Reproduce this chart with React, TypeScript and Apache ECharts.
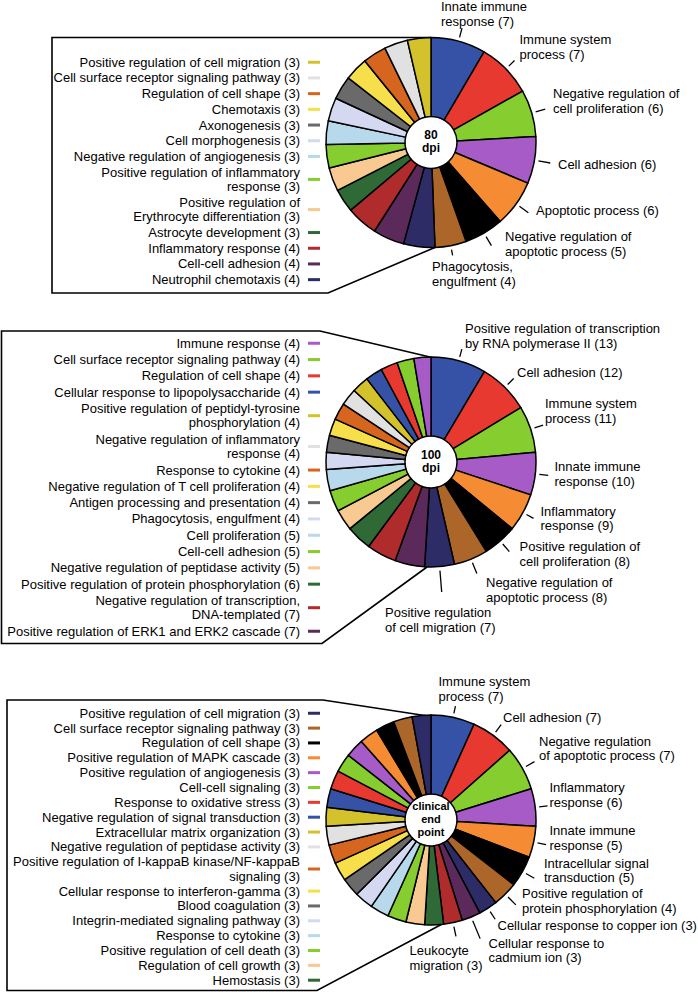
import React, { useEffect, useRef } from "react";
import * as echarts from "echarts";

// ---------- data ----------
const pie1Names = [
  "Innate immune\nresponse",
  "Immune system\nprocess",
  "Negative regulation of\ncell proliferation",
  "Cell adhesion",
  "Apoptotic process",
  "Negative regulation of\napoptotic process",
  "Phagocytosis,\nengulfment",
  "Neutrophil chemotaxis",
  "Cell-cell adhesion",
  "Inflammatory response",
  "Astrocyte development",
  "Positive regulation of\nErythrocyte differentiation",
  "Positive regulation of inflammatory\nresponse",
  "Negative regulation of angiogenesis",
  "Cell morphogenesis",
  "Axonogenesis",
  "Chemotaxis",
  "Regulation of cell shape",
  "Cell surface receptor signaling pathway",
  "Positive regulation of cell migration",
];
const pie1Values = [7, 7, 6, 6, 6, 5, 4, 4, 4, 4, 3, 3, 3, 3, 3, 3, 3, 3, 3, 3];

const pie2Names = [
  "Positive regulation of transcription\nby RNA polymerase II",
  "Cell adhesion",
  "Immune system\nprocess",
  "Innate immune\nresponse",
  "Inflammatory\nresponse",
  "Positive regulation of\ncell proliferation",
  "Negative regulation of\napoptotic process",
  "Positive regulation\nof cell migration",
  "Positive regulation of ERK1 and ERK2 cascade",
  "Negative regulation of transcription,\nDNA-templated",
  "Positive regulation of protein phosphorylation",
  "Negative regulation of peptidase activity",
  "Cell-cell adhesion",
  "Cell proliferation",
  "Phagocytosis, engulfment",
  "Antigen processing and presentation",
  "Negative regulation of T cell proliferation",
  "Response to cytokine",
  "Negative regulation of inflammatory\nresponse",
  "Positive regulation of peptidyl-tyrosine\nphosphorylation",
  "Cellular response to lipopolysaccharide",
  "Regulation of cell shape",
  "Cell surface receptor signaling pathway",
  "Immune response",
];
const pie2Values = [13, 12, 11, 10, 9, 8, 8, 7, 7, 7, 6, 5, 5, 5, 4, 4, 4, 4, 4, 4, 4, 4, 4, 4];

const pie3Names = [
  "Immune system\nprocess",
  "Cell adhesion",
  "Negative regulation\nof apoptotic process",
  "Inflammatory\nresponse",
  "Innate immune\nresponse",
  "Intracellular signal\ntransduction",
  "Positive regulation of\nprotein phosphorylation",
  "Cellular response to copper ion",
  "Cellular response to\ncadmium ion",
  "Leukocyte\nmigration",
  "Hemostasis",
  "Regulation of cell growth",
  "Positive regulation of cell death",
  "Response to cytokine",
  "Integrin-mediated signaling pathway",
  "Blood coagulation",
  "Cellular response to interferon-gamma",
  "Positive regulation of I-kappaB kinase/NF-kappaB\nsignaling",
  "Negative regulation of peptidase activity",
  "Extracellular matrix organization",
  "Negative regulation of signal transduction",
  "Response to oxidative stress",
  "Cell-cell signaling",
  "Positive regulation of angiogenesis",
  "Positive regulation of MAPK cascade",
  "Regulation of cell shape",
  "Cell surface receptor signaling pathway",
  "Positive regulation of cell migration",
];
const pie3Values = [7, 7, 7, 6, 5, 5, 4, 3, 3, 3, 3, 3, 3, 3, 3, 3, 3, 3, 3, 3, 3, 3, 3, 3, 3, 3, 3, 3];

const pieTitles = ["80\ndpi", "100\ndpi", "clinical\nend\npoint"];

// ---------- styles / layout ----------
const FONT = "'Liberation Sans', Arial, Helvetica, sans-serif";
const palette = [
  "#3652a6", "#e7392f", "#86cd2f", "#a65bc6", "#f58c33",
  "#000000", "#ad6629", "#2e2c66", "#5b2a5b", "#b02b2c",
  "#2f6a36", "#f8c991", "#86cd2f", "#b8d8eb", "#d4d9f1",
  "#6a6a6a", "#f6df4a", "#d6661f", "#e1e1e1", "#d4c22d",
];
const OUTER_R = 105;
const INNER_R = 26;

// label placement: [left x, middle y, dash length]
const pie1LabelPos = [
  [441, 14, 9.5], [519.5, 47, 8], [553, 101, 10], [558, 164, 12],
  [536, 210.5, 11], [505, 244, 10.5], [432, 274, 6],
];
const pie2LabelPos = [
  [465, 336, 8], [517, 372, 8.5], [545, 411, 9], [554.5, 474, 9],
  [540.5, 518.5, 8], [519.5, 554, 10], [486, 590, 11.5], [385, 620, 21.5],
];
const pie3LabelPos = [
  [438.5, 689, 7.5], [503, 717.5, 9.4], [539, 748.5, 9.8], [549.5, 795, 8.4],
  [549.5, 838, 8.7], [544, 870.5, 9.6], [522, 901, 11], [497.5, 925, 9.2],
  [488.5, 950.5, 19.4], [409.5, 958, 10],
];

const pies = [
  { names: pie1Names, values: pie1Values, center: [431, 142.5], labelPos: pie1LabelPos, legendTop: 55, legendGap: 1.2, titleSize: 12 },
  { names: pie2Names, values: pie2Values, center: [431, 462], labelPos: pie2LabelPos, legendTop: 336, legendGap: 1.8, titleSize: 12 },
  { names: pie3Names, values: pie3Values, center: [431, 820], labelPos: pie3LabelPos, legendTop: 706, legendGap: 0.35, titleSize: 11 },
];

const boxLines = [
  [[431, 37.5], [52, 37.5], [52, 293], [328, 293], [436, 247]],
  [[430, 357], [320, 331], [1.5, 331], [1.5, 643.5], [322, 643.5], [427, 567]],
  [[428, 716], [323, 700], [7, 700], [7, 990.5], [317, 990.5], [446, 922]],
];

const itemId = (names: string[], values: number[], i: number, si: number) =>
  `${names[i]} (${values[i]})#${si}`;

export default function App() {
  const ref = useRef<HTMLDivElement>(null);
  useEffect(() => {
    document.body.style.margin = "0";
    if (!ref.current) return;
    const chart = echarts.init(ref.current, null, { renderer: "svg" });

    const series = pies.map((p, si) => {
      const total = p.values.reduce((a, b) => a + b, 0);
      const nLab = p.labelPos.length;
      return {
        type: "pie",
        center: p.center,
        radius: [INNER_R, OUTER_R],
        startAngle: 90,
        clockwise: true,
        avoidLabelOverlap: false,
        silent: true,
        emphasis: { disabled: true },
        itemStyle: { borderColor: "#000", borderWidth: 1.5 },
        label: {
          show: true,
          position: "outside",
          overflow: "none",
          color: "#000",
          fontSize: 13,
          lineHeight: 14.5,
          fontFamily: FONT,
          formatter: (prm: any) => String(prm.name).split("#")[0],
        },
        labelLine: { show: true, length: 5, length2: 5, lineStyle: { color: "#000", width: 1.3 } },
        labelLayout: (prm: any) => {
          const lp = p.labelPos[prm.dataIndex];
          if (!lp) return {};
          let before = 0;
          for (let i = 0; i < prm.dataIndex; i++) before += p.values[i];
          const mid = ((before + p.values[prm.dataIndex] / 2) / total) * Math.PI * 2;
          const [cx, cy] = p.center;
          const r1 = OUTER_R + 4;
          const r2 = r1 + lp[2];
          const p1 = [cx + r1 * Math.sin(mid), cy - r1 * Math.cos(mid)];
          const p2 = [cx + r2 * Math.sin(mid), cy - r2 * Math.cos(mid)];
          return {
            x: lp[0],
            y: lp[1],
            align: "left",
            verticalAlign: "middle",
            labelLinePoints: [p1, p2, p2],
          };
        },
        data: p.values.map((v, i) => ({
          name: itemId(p.names, p.values, i, si),
          value: v,
          itemStyle: { color: palette[i % palette.length] },
          label: { show: i < nLab },
          labelLine: { show: i < nLab },
        })),
      };
    });

    const legends = pies.map((p, si) => {
      const nLab = p.labelPos.length;
      const names: string[] = [];
      for (let i = p.values.length - 1; i >= nLab; i--) names.push(itemId(p.names, p.values, i, si));
      return {
        type: "plain",
        orient: "vertical",
        align: "right",
        right: 378,
        top: p.legendTop,
        padding: 0,
        itemGap: p.legendGap,
        itemWidth: 12,
        itemHeight: 3,
        icon: "rect",
        selectedMode: false,
        itemStyle: { borderWidth: 0 },
        data: names,
        formatter: (name: string) => name.split("#")[0],
        textStyle: {
          color: "#000",
          fontSize: 13,
          lineHeight: 14.5,
          fontFamily: FONT,
          padding: [0, 3, 0, 0],
        },
      };
    });

    const graphic: any[] = [];
    boxLines.forEach((pts) =>
      graphic.push({
        type: "polyline",
        z: -1,
        shape: { points: pts },
        style: { stroke: "#000", lineWidth: 1.6, fill: null },
        silent: true,
      })
    );
    pies.forEach((p, si) =>
      graphic.push({
        type: "text",
        x: p.center[0],
        y: p.center[1] - 1,
        z: 10,
        style: {
          text: pieTitles[si],
          textAlign: "center",
          textVerticalAlign: "middle",
          fontSize: p.titleSize,
          fontWeight: "bold",
          lineHeight: 13,
          fontFamily: FONT,
          fill: "#000",
        },
      })
    );

    chart.setOption({
      animation: false,
      backgroundColor: "#fff",
      legend: legends,
      series,
      graphic,
    } as any);

    return () => chart.dispose();
  }, []);

  return <div ref={ref} style={{ position: "absolute", left: 0, top: 0, width: 698, height: 992 }} />;
}
